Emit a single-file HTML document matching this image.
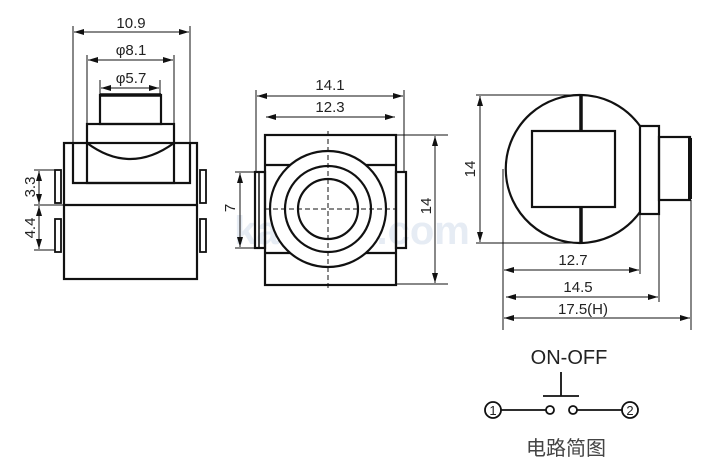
<!DOCTYPE html>
<html><head><meta charset="utf-8"><style>
html,body{margin:0;padding:0;background:#fff}
svg{display:block}
text{font-family:"Liberation Sans","Noto Sans CJK SC",sans-serif;fill:#222}
</style></head><body>
<svg width="715" height="466" viewBox="0 0 715 466" xmlns="http://www.w3.org/2000/svg">
<defs>
<marker id="a" viewBox="0 0 10 6" refX="10" refY="3" markerWidth="10" markerHeight="6" orient="auto-start-reverse" markerUnits="userSpaceOnUse"><path d="M0,0 L10,3 L0,6 z" fill="#111"/></marker>
</defs>
<text x="352" y="244" font-size="40" font-weight="bold" style="fill:#e6ecf4" text-anchor="middle">kaiwele.com</text>
<g stroke="#111" fill="none" stroke-width="2.2">
<rect x="64" y="143" width="133" height="136"/>
<line x1="64" y1="205" x2="197" y2="205"/>
<polyline points="73,143 73,183 190,183 190,143"/>
<rect x="87" y="124" width="87" height="59"/>
<path d="M87,143 Q130,175 174,143"/>
<rect x="100" y="95" width="61" height="29"/>
<line x1="100" y1="95" x2="161" y2="95" stroke-width="3.5"/>
<rect x="55" y="170" width="6" height="33" stroke-width="1.8"/>
<rect x="55" y="219" width="6" height="33" stroke-width="1.8"/>
<rect x="200" y="170" width="6" height="33" stroke-width="1.8"/>
<rect x="200" y="219" width="6" height="33" stroke-width="1.8"/>
<rect x="265" y="135" width="131" height="150"/>
<line x1="265" y1="165" x2="295" y2="165"/><line x1="362" y1="165" x2="396" y2="165"/>
<line x1="265" y1="253" x2="292" y2="253"/><line x1="365" y1="253" x2="396" y2="253"/>
<circle cx="328" cy="209" r="58" fill="#fff"/>
<circle cx="328" cy="209" r="43"/>
<circle cx="328" cy="209" r="30"/>
<rect x="255" y="172" width="10" height="76"/>
<line x1="259" y1="172" x2="259" y2="248" stroke-width="1.5"/>
<rect x="396" y="172" width="10" height="76"/>
<path d="M640,126 A74,74 0 1 0 640,212"/>
<rect x="532" y="131" width="83" height="76"/>
<line x1="581" y1="95" x2="581" y2="131" stroke-width="3.5"/>
<line x1="581" y1="207" x2="581" y2="243" stroke-width="3.5"/>
<rect x="640" y="126" width="19" height="88"/>
<rect x="659" y="137" width="31" height="63"/>
<line x1="690" y1="138" x2="690" y2="199" stroke-width="4"/>
<circle cx="493" cy="410" r="8" stroke-width="1.8"/>
<circle cx="630" cy="410" r="8" stroke-width="1.8"/>
<line x1="501" y1="410" x2="546" y2="410" stroke-width="1.8"/>
<line x1="577" y1="410" x2="622" y2="410" stroke-width="1.8"/>
<circle cx="550" cy="410" r="4" stroke-width="1.8"/>
<circle cx="573" cy="410" r="4" stroke-width="1.8"/>
<line x1="561" y1="372" x2="561" y2="396" stroke-width="1.8"/>
<line x1="543" y1="396" x2="579" y2="396" stroke-width="1.8"/>
</g>
<g stroke="#111" fill="none" stroke-width="1">
<line x1="73" y1="26" x2="73" y2="143"/><line x1="190" y1="26" x2="190" y2="143"/>
<line x1="74" y1="32" x2="189" y2="32" marker-start="url(#a)" marker-end="url(#a)"/>
<line x1="87" y1="55" x2="87" y2="124"/><line x1="174" y1="55" x2="174" y2="124"/>
<line x1="88" y1="60" x2="173" y2="60" marker-start="url(#a)" marker-end="url(#a)"/>
<line x1="100" y1="80" x2="100" y2="95"/><line x1="160" y1="80" x2="160" y2="95"/>
<line x1="101" y1="88" x2="159" y2="88" marker-start="url(#a)" marker-end="url(#a)"/>
<line x1="34" y1="170" x2="55" y2="170"/><line x1="34" y1="205" x2="64" y2="205"/><line x1="34" y1="250" x2="55" y2="250"/>
<line x1="39" y1="171" x2="39" y2="204" marker-start="url(#a)" marker-end="url(#a)"/>
<line x1="39" y1="206" x2="39" y2="249" marker-start="url(#a)" marker-end="url(#a)"/>
<line x1="256" y1="90" x2="256" y2="172"/><line x1="404" y1="90" x2="404" y2="172"/>
<line x1="257" y1="96" x2="403" y2="96" marker-start="url(#a)" marker-end="url(#a)"/>
<line x1="266" y1="117" x2="395" y2="117" marker-start="url(#a)" marker-end="url(#a)"/>
<line x1="396" y1="135" x2="448" y2="135"/><line x1="396" y1="284" x2="448" y2="284"/>
<line x1="435" y1="136" x2="435" y2="283" marker-start="url(#a)" marker-end="url(#a)"/>
<line x1="235" y1="172" x2="255" y2="172"/><line x1="235" y1="248" x2="255" y2="248"/>
<line x1="240" y1="173" x2="240" y2="247" marker-start="url(#a)" marker-end="url(#a)"/>
<line x1="328" y1="131" x2="328" y2="291" stroke-dasharray="5,3"/>
<line x1="265" y1="209" x2="396" y2="209" stroke-dasharray="5,3"/>
<line x1="476" y1="95" x2="581" y2="95"/><line x1="476" y1="243" x2="581" y2="243"/>
<line x1="480" y1="96" x2="480" y2="242" marker-start="url(#a)" marker-end="url(#a)"/>
<line x1="503" y1="169" x2="503" y2="330"/>
<line x1="640" y1="214" x2="640" y2="274"/>
<line x1="659" y1="214" x2="659" y2="302"/>
<line x1="691" y1="200" x2="691" y2="330"/>
<line x1="504" y1="270" x2="639" y2="270" marker-start="url(#a)" marker-end="url(#a)"/>
<line x1="506" y1="297" x2="658" y2="297" marker-start="url(#a)" marker-end="url(#a)"/>
<line x1="504" y1="318" x2="690" y2="318" marker-start="url(#a)" marker-end="url(#a)"/>
</g>
<g font-size="15">
<text x="131" y="28" text-anchor="middle">10.9</text>
<text x="131" y="55" text-anchor="middle">φ8.1</text>
<text x="131" y="83" text-anchor="middle">φ5.7</text>
<text transform="translate(35,187) rotate(-90)" text-anchor="middle">3.3</text>
<text transform="translate(35,228) rotate(-90)" text-anchor="middle">4.4</text>
<text x="330" y="90" text-anchor="middle">14.1</text>
<text x="330" y="112" text-anchor="middle">12.3</text>
<text transform="translate(431,206) rotate(-90)" text-anchor="middle">14</text>
<text transform="translate(235,208) rotate(-90)" text-anchor="middle">7</text>
<text transform="translate(475,169) rotate(-90)" text-anchor="middle">14</text>
<text x="573" y="265" text-anchor="middle">12.7</text>
<text x="578" y="292" text-anchor="middle">14.5</text>
<text x="583" y="314" text-anchor="middle">17.5(H)</text>
<text x="493" y="415" font-size="13" text-anchor="middle">1</text>
<text x="630" y="415" font-size="13" text-anchor="middle">2</text>
</g>
<text x="569" y="364" font-size="20" text-anchor="middle">ON-OFF</text>
<text x="566" y="455" font-size="20" text-anchor="middle" style="fill:#444">电路简图</text>
</svg>
</body></html>
